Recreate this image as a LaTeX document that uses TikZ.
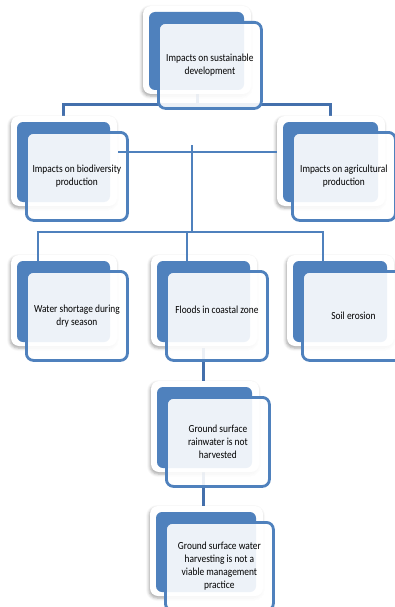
\documentclass[tikz,border=0pt]{standalone}
\usepackage{fontspec}
\setmainfont{Carlito}[FakeStretch=0.87]
\usetikzlibrary{shadows.blur}
\definecolor{boxblue}{HTML}{4F81BD}
\definecolor{busblue}{HTML}{4470AC}
\tikzset{
  halo/.style={fill=white, rounded corners=8pt,
    blur shadow={shadow xshift=-1pt, shadow yshift=-2pt, shadow blur radius=3pt, shadow opacity=35}},
  backplate/.style={fill=boxblue, rounded corners=6pt},
  faceplate/.style={draw=boxblue, line width=2.8pt, fill=white, fill opacity=0.9, text opacity=1,
    rounded corners=7pt, inner sep=2pt, align=center,
    font=\fontsize{10.8pt}{13pt}\selectfont, text=black},
  link/.style={draw=boxblue, line width=2.4pt},
  trunk/.style={draw=busblue, line width=3pt},
}
% #1 node name, #2..#5 back plate corners (x1,y1,x2,y2), #6 text
\newcommand\stackbox[6]{%
  \path[halo] (#2-6,#3-6) rectangle (#4+7,#5+4);
  \path[backplate] (#2,#3) rectangle (#4,#5);
  \node[faceplate, anchor=north west, minimum width={#4-#2+8}, minimum height={#5-#3+8}]
    (#1) at (#2+8,#3+9) {#6};
}
\begin{document}
\begin{tikzpicture}[x=1pt, y=-1pt]
\useasboundingbox (0,0) rectangle (395,607);

% junctions of the connectors
\coordinate (topstub) at (197,90);
\coordinate (topbusC) at (197,105);
\coordinate (topbusL) at (63,105);
\coordinate (topbusR) at (330,105);
\coordinate (leftdrop) at (63,117);
\coordinate (rightdrop) at (330,117);
\coordinate (midbusL) at (118,152);
\coordinate (midbusR) at (277,152);
\coordinate (stemtop) at (192,145);
\coordinate (stembot) at (192,232);
\coordinate (lowbusL) at (38,232);
\coordinate (lowbusM) at (187,232);
\coordinate (lowbusR) at (323,232);
\coordinate (dropL) at (38,262);
\coordinate (dropM) at (187,262);
\coordinate (dropR) at (323,262);
\coordinate (chainA) at (203,348);
\coordinate (chainB) at (203,390);
\coordinate (chainC) at (203,472);
\coordinate (chainD) at (203,515);

% connectors lying beneath the boxes
\draw[trunk] (topstub) -- (topbusC);
\draw[trunk] (leftdrop) -- (topbusL) -- (topbusR) -- (rightdrop);
\draw[trunk] (chainA) -- (chainB);
\draw[trunk] (chainC) -- (chainD);

% boxes
\stackbox{sust}{149}{12}{244}{90}{Impacts on sustainable\\development}
\stackbox{bio}{17}{122}{110}{202}{Impacts on biodiversity\\production}
\stackbox{agri}{283}{122}{378}{202}{Impacts on agricultural\\production}
\stackbox{water}{17}{261}{110}{342}{Water shortage during\\dry season}
\stackbox{flood}{157}{261}{250}{342}{Floods in coastal zone\\\mbox{}}
\stackbox{soil}{293}{261}{387}{342}{Soil erosion}
\stackbox{rain}{157}{387}{252}{468}{Ground surface\\rainwater is not\\harvested}
\stackbox{harvest}{156}{512}{256}{592}{Ground surface water\\harvesting is not a\\viable management\\practice}

% connectors drawn over the boxes
\draw[link] (midbusL) -- (midbusR);
\draw[link] (stemtop) -- (stembot);
\draw[link] (dropL) -- (lowbusL) -- (lowbusR) -- (dropR);
\draw[link] (lowbusM) -- (dropM);
\end{tikzpicture}
\end{document}
